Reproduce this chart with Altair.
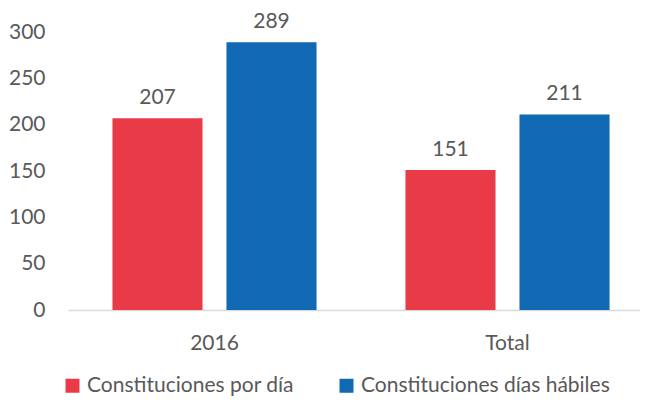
import altair as alt
import pandas as pd

categories = ["2016", "2016", "Total", "Total"]
series = ["Constituciones por día", "Constituciones días hábiles",
          "Constituciones por día", "Constituciones días hábiles"]
values = [207, 289, 151, 211]
series_order = ["Constituciones por día", "Constituciones días hábiles"]
colors = ["#E93B47", "#1169B3"]

df = pd.DataFrame({"cat": categories, "serie": series, "valor": values})

FONT = "Lato"
GREY = "#595959"

base = alt.Chart(df).encode(
    x=alt.X("cat:N", sort=["2016", "Total"],
            scale=alt.Scale(paddingInner=0, paddingOuter=0, range=[0, 586]),
            axis=alt.Axis(title=None, labelAngle=0, ticks=False, domainColor="#D9D9D9",
                          domainWidth=1.5, labelPadding=22, labelFontSize=21,
                          labelFont=FONT, labelColor=GREY)),
    xOffset=alt.XOffset("serie:N", sort=series_order,
                        scale=alt.Scale(paddingInner=0.21, paddingOuter=0.39)),
    y=alt.Y("valor:Q", scale=alt.Scale(domain=[0, 300], nice=False),
            axis=alt.Axis(title=None, values=[0, 50, 100, 150, 200, 250, 300],
                          grid=False, domain=False, ticks=False, labelPadding=23,
                          labelFontSize=21, labelFont=FONT, labelColor=GREY)),
)

bars = base.mark_bar().encode(
    color=alt.Color("serie:N", sort=series_order,
                    scale=alt.Scale(domain=series_order, range=colors),
                    legend=alt.Legend(title=None, orient="none", direction="horizontal",
                                      legendX=-6, legendY=343, symbolType="square",
                                      symbolSize=196, symbolStrokeWidth=0,
                                      labelFontSize=21, labelFont=FONT, labelColor=GREY,
                                      labelLimit=0, columnPadding=42, labelOffset=4))
)

labels = base.mark_text(dy=-20, fontSize=21, font=FONT, color=GREY).encode(
    text=alt.Text("valor:Q")
)

chart = (bars + labels).properties(
    width=572, height=278,
    autosize=alt.AutoSizeParams(type="none"),
    padding={"left": 60, "top": 24, "right": 0, "bottom": 86},
).configure_view(stroke=None)

chart.save("out.html", embed_options={"renderer": "svg", "actions": False})
